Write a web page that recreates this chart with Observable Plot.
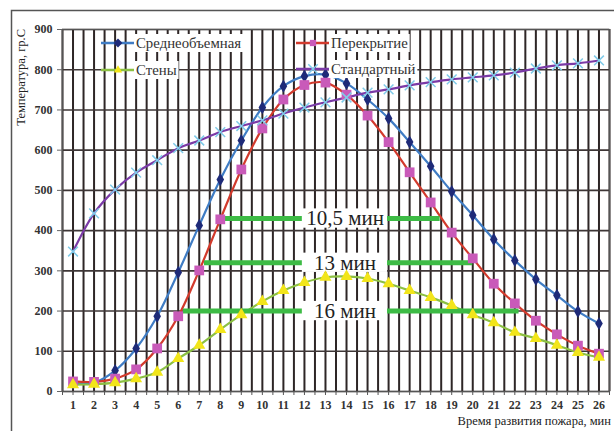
<!DOCTYPE html>
<html>
<head>
<meta charset="utf-8">
<script src="https://cdn.jsdelivr.net/npm/d3@7"></script>
<script src="https://cdn.jsdelivr.net/npm/@observablehq/plot@0.6"></script>
<style>
  html, body { margin: 0; padding: 0; background: #fff; }
  #chart { position: relative; width: 614px; height: 431px; }
  #chart text.serif { font-family: 'Liberation Serif', 'DejaVu Serif', serif; }
</style>
</head>
<body>
<div id="chart"></div>
<script>
// ---- data ----
const minutes = d3.range(1, 27);
const seriesNames = ["Среднеобъемная", "Перекрытие", "Стены", "Стандартный"];
const avgVolume = [20, 22, 52, 107, 187, 296, 413, 527, 624, 706, 759, 784, 788, 766, 726, 679, 620, 560, 497, 438, 378, 326, 279, 239, 199, 169];
const ceiling   = [25, 24, 32, 55, 107, 187, 301, 428, 552, 654, 726, 762, 768, 738, 686, 620, 545, 470, 395, 331, 268, 219, 176, 142, 114, 94];
const walls     = [17, 18, 22, 32, 48, 82, 115, 154, 191, 224, 251, 271, 284, 286, 281, 268, 251, 234, 214, 191, 171, 147, 132, 115, 97, 85];
const standard  = [348, 443, 502, 544, 575, 605, 624, 645, 660, 674, 691, 706, 719, 731, 743, 751, 761, 769, 776, 781, 786, 793, 803, 811, 816, 823];
const yTicks = d3.range(0, 901, 100);

// duration annotations (temperature level, start/end minute, label)
const durLevels = [430, 320, 200];
const durStart  = [8.0, 7.25, 6.25];
const durEnd    = [18.45, 20.0, 22.2];
const durLabels = ["10,5 мин", "13 мин", "16 мин"];

const allValues = [avgVolume, ceiling, walls, standard];
const lineColors = ["#3f7cc4", "#d23a2c", "#8cc043", "#7a3aa6"];
const data = [];
seriesNames.forEach((s, i) => minutes.forEach((m, j) => data.push({series: s, m, t: allValues[i][j]})));
const dur = durLevels.map((lv, i) => ({lv, a: durStart[i], b: durEnd[i], label: durLabels[i]}));
const sub = s => data.filter(d => d.series === s);

const W = 614, H = 431;
const serif = "'Liberation Serif', 'DejaVu Serif', serif";

const plot = Plot.plot({
  width: W, height: H,
  marginLeft: 62, marginRight: 5, marginTop: 29, marginBottom: 40,
  style: {fontFamily: serif, fontSize: "12px", color: "#333", background: "#fff"},
  x: {domain: [0.5, 26.5]},
  y: {domain: [0, 900]},
  marks: [
    Plot.ruleX(d3.range(0.5, 26.51, 0.5), {stroke: "#2e2626", strokeWidth: 2}),
    Plot.ruleY(yTicks, {stroke: "#3e3636", strokeWidth: 1.6}),
    Plot.frame({stroke: "#555", strokeWidth: 1.2}),
    Plot.axisY({ticks: yTicks, tickSize: 5, tickPadding: 5, fontSize: 12, fontWeight: "bold", label: null, stroke: "#666"}),
    Plot.axisX({ticks: d3.range(0.5, 26.51, 0.5), tickSize: 4, tickFormat: () => "", label: null, stroke: "#555"}),
    Plot.axisX({ticks: minutes, tickSize: 0, tickPadding: 9, fontSize: 12, fontWeight: "bold", label: null}),
    ...seriesNames.map((s, i) => Plot.line(sub(s), {x: "m", y: "t", stroke: lineColors[i], strokeWidth: 2.2, curve: "catmull-rom"})),
    Plot.ruleY(dur, {y: "lv", x1: "a", x2: "b", stroke: "#3dbb45", strokeWidth: 5}),
    Plot.rect(dur, {x1: 11.9, x2: 15.95, y1: d => d.lv - 24, y2: d => d.lv + 24, fill: "#fff"}),
    Plot.text(dur, {x: 13.93, y: "lv", text: "label", fontSize: 21, fill: "#222", fontFamily: serif}),
    Plot.dot(sub("Среднеобъемная"), {x: "m", y: "t", symbol: "diamond", r: 4, fill: "#1e2a78"}),
    Plot.dot(sub("Перекрытие"), {x: "m", y: "t", symbol: "square", r: 5.5, fill: "#c95ab9"}),
    Plot.dot(sub("Стены"), {x: "m", y: "t", symbol: "triangle", r: 4.5, fill: "#f2e51a"}),
    Plot.dot(sub("Стандартный"), {x: "m", y: "t", symbol: "times", r: 4.5, stroke: "#7fcbe9", strokeWidth: 1.5})
  ]
});

document.getElementById("chart").appendChild(plot);
const svg = d3.select(plot);
// legend
const legend = [
  {name: seriesNames[0], x: 101, y: 43, color: lineColors[0], sym: d3.symbolDiamond2, fill: "#1e2a78"},
  {name: seriesNames[1], x: 296, y: 43, color: lineColors[1], sym: d3.symbolSquare2, fill: "#c95ab9"},
  {name: seriesNames[2], x: 101, y: 70, color: lineColors[2], sym: d3.symbolTriangle2, fill: "#f2e51a"},
  {name: seriesNames[3], x: 296, y: 69, color: lineColors[3], sym: d3.symbolTimes, fill: "none", stroke: "#7fcbe9"}
];
const lg = svg.append("g").attr("text-anchor", "start");
legend.forEach(l => {
  const rect = lg.append("rect").attr("fill", "#fff");
  const t = lg.append("text").attr("class", "serif").attr("x", l.x + 35).attr("y", l.y).attr("dy", "0.35em")
    .style("text-anchor", "start").style("font-size", "14.8px").style("fill", "#333")
    .style("font-family", serif).text(l.name);
  const w = t.node().getComputedTextLength();
  rect.attr("x", l.x + 33).attr("y", l.y - 9).attr("width", w + 4).attr("height", 18);
  lg.append("line").attr("x1", l.x).attr("x2", l.x + 33).attr("y1", l.y).attr("y2", l.y).attr("stroke", l.color).attr("stroke-width", 2.5);
  lg.append("path").attr("transform", `translate(${l.x + 17},${l.y})`)
    .attr("d", d3.symbol(l.sym, l.sym === d3.symbolTimes ? 60 : 50)())
    .attr("fill", l.fill).attr("stroke", l.stroke || "none").attr("stroke-width", 1.5);
});
// axis titles
svg.append("text").attr("class", "serif").attr("transform", "translate(25,29) rotate(-90)")
  .style("text-anchor", "end").style("font-size", "12.5px").style("fill", "#222").style("font-family", serif)
  .text("Температура, гр.С");
svg.append("text").attr("class", "serif").attr("x", 611).attr("y", 425)
  .style("text-anchor", "end").style("font-size", "12.5px").style("fill", "#222").style("font-family", serif)
  .text("Время развития пожара, мин");
// outer frame
svg.append("path").attr("d", "M11.5,431 V10.5 H614").attr("fill", "none").attr("stroke", "#555").attr("stroke-width", 1.5);
</script>
</body>
</html>
